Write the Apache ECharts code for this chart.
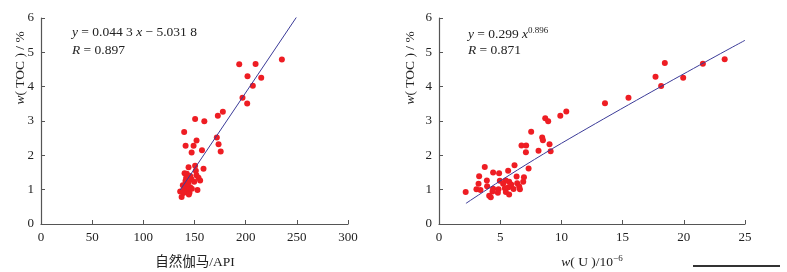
<!DOCTYPE html>
<html>
<head>
<meta charset="utf-8">
<script src="https://cdn.jsdelivr.net/npm/echarts@6/dist/echarts.min.js"></script>
<style>
  html, body { margin: 0; padding: 0; background: #fff; }
  #chart { width: 787px; height: 272px; }
</style>
</head>
<body>
<div id="chart"></div>
<script>
// left panel: natural gamma (API) vs TOC (%)
const gammaX = [193.7, 209.7, 235.4, 201.8, 215.2, 207, 196.9, 201.5, 177.7, 172.8, 150.6, 159.6, 139.9, 171.8, 152, 141.3, 149.1, 173.5, 157.3, 175.6, 147.2,
  150.6, 144.2, 158.8, 151.3, 140.3, 142.5, 145.8, 151.9, 141.8, 153.9, 155.5, 147, 141.2, 144.1, 149.7, 138.6, 142.5, 145.8, 139.9, 143.5, 147.4, 152.9, 136, 141.2, 145.1, 139.2, 144.5, 137.4];
const gammaToc = [4.65, 4.66, 4.79, 4.30, 4.26, 4.03, 3.68, 3.51, 3.27, 3.15, 3.06, 2.99, 2.68, 2.52, 2.43, 2.28, 2.28, 2.32, 2.15, 2.11, 2.08,
  1.70, 1.65, 1.61, 1.55, 1.48, 1.46, 1.40, 1.42, 1.34, 1.35, 1.27, 1.30, 1.25, 1.21, 1.23, 1.13, 1.11, 1.07, 1.03, 1.01, 1.03, 0.99, 0.95, 0.94, 0.91, 0.90, 0.86, 0.79];
const gammaFitX = [136, 250];
const gammaFitY = [0.99, 6.04];

// right panel: U (10^-6) vs TOC (%)
const uX = [2.18, 23.34, 21.56, 18.45, 17.69, 19.95, 18.15, 15.48, 13.56, 10.40, 9.91, 8.68, 8.92, 7.53, 8.43, 8.49, 6.74, 7.12, 9.03, 8.13, 9.12, 7.10,
  3.74, 3.28, 4.42, 4.91, 5.65, 6.17, 7.32, 3.91, 4.97, 5.46, 5.73, 6.34, 6.94, 6.88, 3.23, 3.93, 5.24, 5.90, 6.39, 6.55, 5.68, 3.06, 3.39, 4.42, 4.86, 5.38, 6.09, 6.61, 4.37, 4.81, 5.46, 5.73, 4.10, 4.23];
const uToc = [0.93, 4.80, 4.67, 4.69, 4.29, 4.26, 4.02, 3.68, 3.52, 3.28, 3.15, 3.08, 2.99, 2.69, 2.52, 2.44, 2.29, 2.29, 2.32, 2.13, 2.12, 2.09,
  1.66, 1.39, 1.50, 1.48, 1.55, 1.71, 1.62, 1.27, 1.26, 1.27, 1.23, 1.38, 1.36, 1.23, 1.17, 1.10, 1.17, 1.15, 1.19, 1.09, 1.07, 1.01, 0.99, 1.03, 1.01, 1.04, 1.02, 1.01, 0.95, 0.91, 0.93, 0.86, 0.82, 0.78];
const uFitX = [2.2, 10, 25];
const uFitY = [0.6, 2.35, 5.35];

const gammaTicks = { min: 0, max: 300, interval: 50 };
const uTicks = { min: 0, max: 25, interval: 5 };
const tocTicks = { min: 0, max: 6, interval: 1 };

const zip = (xs, ys) => xs.map((x, i) => [x, ys[i]]);

const serif = "Liberation Serif, Noto Sans CJK SC, serif";
const axisColor = "#555";
const dotColor = "#ee1d23";
const lineColor = "#3b3b98";

const xAxisBase = (idx, t) => ({
  type: "value",
  gridIndex: idx,
  min: t.min,
  max: t.max,
  interval: t.interval,
  axisLine: { lineStyle: { color: axisColor, width: 1.2 } },
  axisTick: { inside: true, length: 4, lineStyle: { color: axisColor } },
  axisLabel: { margin: 7, color: "#222", fontFamily: serif, fontSize: 13 },
  splitLine: { show: false },
});
const yAxisBase = (idx) => ({
  type: "value",
  gridIndex: idx,
  min: tocTicks.min,
  max: tocTicks.max,
  interval: tocTicks.interval,
  axisLine: { show: true, lineStyle: { color: axisColor, width: 1.2 } },
  axisTick: { show: true, inside: true, length: 4, lineStyle: { color: axisColor } },
  axisLabel: { margin: 7, color: "#222", fontFamily: serif, fontSize: 13 },
  splitLine: { show: false },
});

const richText = {
  n: { fontFamily: serif, fontSize: 13.5, fill: "#222" },
  i: { fontFamily: serif, fontSize: 13.5, fontStyle: "italic", fill: "#222" },
  sup: { fontFamily: serif, fontSize: 9, fill: "#222", verticalAlign: "top", padding: [0, 0, 7, 0] },
};

const chart = echarts.init(document.getElementById("chart"));
chart.setOption({
  animation: false,
  grid: [
    { left: 41, top: 18, width: 307, height: 206 },
    { left: 439, top: 18, width: 306, height: 206 },
  ],
  xAxis: [xAxisBase(0, gammaTicks), xAxisBase(1, uTicks)],
  yAxis: [yAxisBase(0), yAxisBase(1)],
  series: [
    {
      type: "scatter", xAxisIndex: 0, yAxisIndex: 0,
      data: zip(gammaX, gammaToc), symbolSize: 6,
      itemStyle: { color: dotColor, opacity: 1 },
    },
    {
      type: "line", xAxisIndex: 0, yAxisIndex: 0,
      data: zip(gammaFitX, gammaFitY), symbol: "none",
      lineStyle: { color: lineColor, width: 1 },
    },
    {
      type: "scatter", xAxisIndex: 1, yAxisIndex: 1,
      data: zip(uX, uToc), symbolSize: 6,
      itemStyle: { color: dotColor, opacity: 1 },
    },
    {
      type: "line", xAxisIndex: 1, yAxisIndex: 1,
      data: zip(uFitX, uFitY), symbol: "none", smooth: true,
      lineStyle: { color: lineColor, width: 1 },
    },
  ],
  graphic: [
    // equations
    {
      type: "text", left: 72, top: 26,
      style: { text: "{i|y} {n|= 0.044 3} {i|x} {n|− 5.031 8}", rich: richText },
    },
    {
      type: "text", left: 72, top: 44,
      style: { text: "{i|R} {n|= 0.897}", rich: richText },
    },
    {
      type: "text", left: 468, top: 26,
      style: { text: "{i|y} {n|= 0.299} {i|x}{sup|0.896}", rich: richText },
    },
    {
      type: "text", left: 468, top: 44,
      style: { text: "{i|R} {n|= 0.871}", rich: richText },
    },
    // axis titles
    {
      type: "text", x: 20, y: 68, rotation: Math.PI / 2,
      style: { text: "{i|w}{n|( TOC ) / %}", rich: richText, align: "center", verticalAlign: "middle" },
    },
    {
      type: "text", x: 410, y: 68, rotation: Math.PI / 2,
      style: { text: "{i|w}{n|( TOC ) / %}", rich: richText, align: "center", verticalAlign: "middle" },
    },
    {
      type: "text", x: 195, y: 262,
      style: { text: "{n|自然伽马/API}", rich: richText, align: "center", verticalAlign: "middle" },
    },
    {
      type: "text", x: 592, y: 262,
      style: { text: "{i|w}{n|( U )/10}{sup|−6}", rich: richText, align: "center", verticalAlign: "middle" },
    },
    // scale bar bottom right
    {
      type: "rect", shape: { x: 693, y: 265, width: 87, height: 2 },
      style: { fill: "#333" },
    },
  ],
});
</script>
</body>
</html>
